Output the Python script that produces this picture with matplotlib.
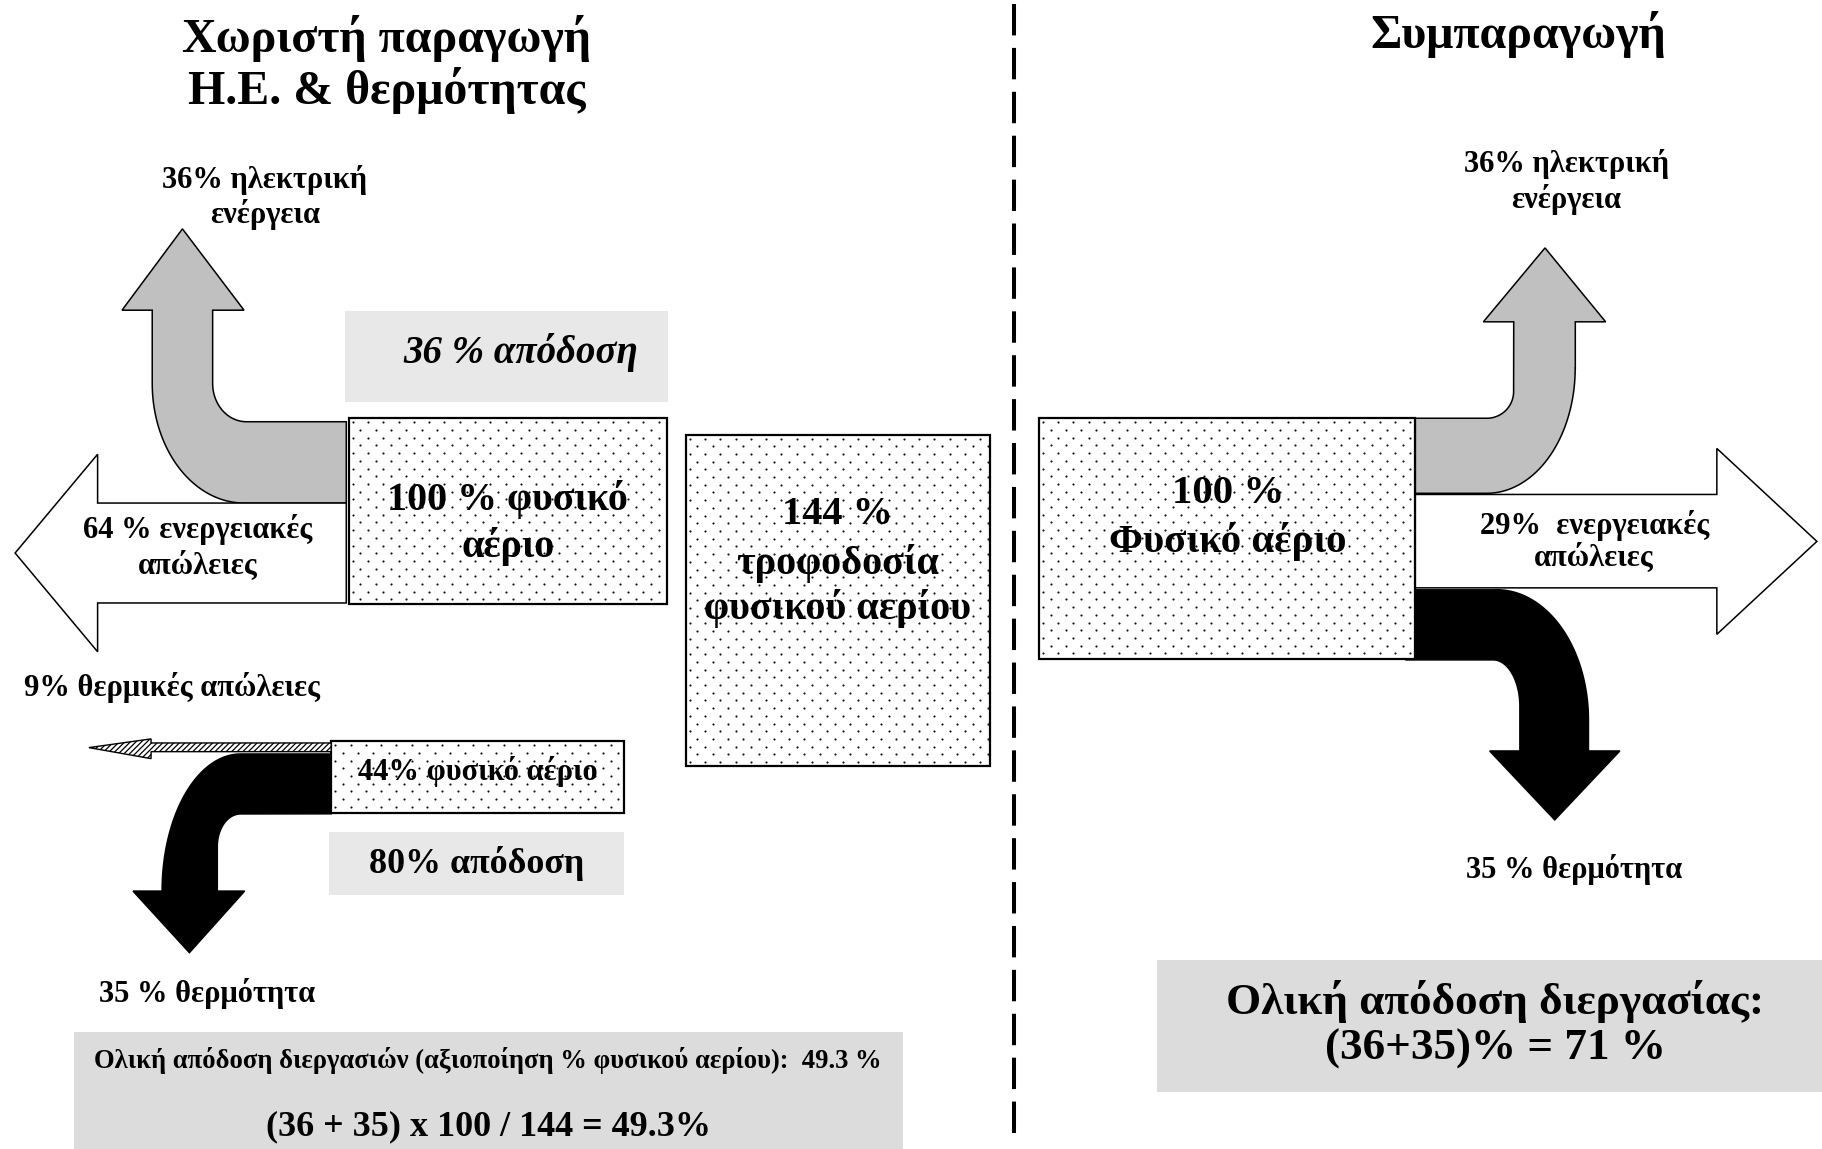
import numpy as np
import matplotlib.pyplot as plt
from matplotlib.patches import Polygon, Rectangle

plt.rcParams['font.family'] = ['Liberation Serif', 'DejaVu Serif']

# texts of the diagram
title_left = ["Χωριστή παραγωγή", "Η.Ε. & θερμότητας"]
title_right = "Συμπαραγωγή"
elec_label = ["36% ηλεκτρική", "ενέργεια"]
eff_el = "36 % απόδοση"
gas_box_left = ["100 % φυσικό", "αέριο"]
loss_left = ["64 % ενεργειακές", "απώλειες"]
heat_loss = "9% θερμικές απώλειες"
gas_boiler = "44% φυσικό αέριο"
eff_boiler = "80% απόδοση"
heat_label = "35 % θερμότητα"
total_left = ["Ολική απόδοση διεργασιών (αξιοποίηση % φυσικού αερίου):  49.3 %",
              "(36 + 35) x 100 / 144 = 49.3%"]
feed_box = ["144 %", "τροφοδοσία", "φυσικού αερίου"]
gas_box_right = ["100 %", "Φυσικό αέριο"]
loss_right = ["29%  ενεργειακές", "απώλειες"]
total_right = ["Ολική απόδοση διεργασίας:", "(36+35)% = 71 %"]


def arc(cx, cy, rx, ry, a0, a1, n=40):
    t = np.radians(np.linspace(a0, a1, n))
    return list(zip(cx + rx * np.cos(t), cy + ry * np.sin(t)))


def shape(pts, fc, lw=1.1, hatch=None, z=2):
    ax.add_patch(Polygon(pts, closed=True, facecolor=fc, edgecolor='black',
                         lw=lw, hatch=hatch, joinstyle='miter', zorder=z))


def box(x0, y0, x1, y1, fc, dotted=False, z=3):
    if dotted:
        ax.add_patch(Rectangle((x0, y0), x1 - x0, y1 - y0, facecolor='white',
                               edgecolor='black', lw=1.6, zorder=z))
        # staggered dot pattern (like the word-processor "dotted" fill)
        px, py = [], []
        for i, y in enumerate(np.arange(y0 + 3.5, y1 - 1, 6.63)):
            xs = np.arange(x0 + 3.5 + (i % 2) * 6.58, x1 - 1, 13.17)
            px += list(xs)
            py += [y] * len(xs)
        ax.scatter(px, py, s=2.4, c='#111111', linewidths=0, zorder=z + 0.5)
    else:
        ax.add_patch(Rectangle((x0, y0), x1 - x0, y1 - y0, facecolor=fc,
                               edgecolor='none', zorder=z))


def txt(x, y, s, size, style='normal'):
    ax.text(x, y, s, ha='center', va='center', fontsize=size,
            fontweight='bold', fontstyle=style, zorder=6)


fig = plt.figure(figsize=(18.22, 11.49), dpi=100)
ax = fig.add_axes([0, 0, 1, 1])
ax.set_xlim(0, 1568)
ax.set_ylim(989, 0)
ax.axis('off')

# titles + divider
txt(333, 33, title_left[0], 34.5)
txt(333, 78, title_left[1], 34.5)
txt(1307, 30, title_right, 34.5)
ax.plot([873, 873], [3.2, 977.6], color='black', lw=2.9,
        linestyle=(0, (7.8, 3.1)), zorder=1)

# ---- left: separate production ----
# grey electricity arrow
pts = [(298, 363), (212, 363)] + arc(212, 330, 29, 33, 90, 180) + \
      [(183, 267), (210, 267), (157, 197), (105, 267), (131, 267), (131, 330)] + \
      arc(210, 330, 79, 103, 180, 90) + [(298, 433)]
shape(pts, '#c0c0c0')
# white loss arrow
shape([(298, 433), (84, 433), (84, 391), (13, 476), (84, 561), (84, 519), (298, 519)], 'white')
# black heat arrow
pts = [(285, 649), (207, 649)] + arc(207, 767, 67.5, 118, 270, 180) + \
      [(114.5, 767), (163, 820), (210.5, 767), (187, 767)] + \
      arc(207, 728.6, 20, 28, 180, 270) + [(285, 700.5)]
shape(pts, 'black')
# hatched thermal loss arrow
plt.rcParams['hatch.linewidth'] = 0.9
shape([(285, 639.5), (130, 639.5), (130, 636), (76.5, 643.5), (130, 653),
       (130, 647), (285, 647)], 'white', lw=1.0, hatch='//////', z=4)

box(297, 268, 575, 346, '#e8e8e8')
box(300, 360, 574, 520, None, dotted=True)
box(285, 638, 537, 700, None, dotted=True)
box(283, 716, 537, 770, '#e8e8e8')
box(590, 374, 852, 659, None, dotted=True)
box(64, 888, 777, 989, '#dcdcdc')

txt(228, 155, elec_label[0], 22)
txt(228, 185, elec_label[1], 22)
txt(448, 303, eff_el, 28, style='italic')
txt(437, 430, gas_box_left[0], 28.8)
txt(437, 470, gas_box_left[1], 28.8)
txt(170, 456, loss_left[0], 22)
txt(170, 487, loss_left[1], 22)
txt(148, 592, heat_loss, 22)
txt(411, 664, gas_boiler, 22)
txt(410, 743, eff_boiler, 25.8)
txt(178, 855, heat_label, 22)
txt(420, 913, total_left[0], 19.2)
txt(420, 970, total_left[1], 26)
txt(721, 443, feed_box[0], 29)
txt(721, 485, feed_box[1], 29)
txt(721, 524, feed_box[2], 29)

# ---- right: cogeneration ----
pts = [(1218, 360), (1279.6, 360)] + arc(1279.6, 337, 23, 23, 90, 0) + \
      [(1302.7, 277), (1276.6, 277), (1329.6, 213.4), (1381.8, 277), (1355.7, 277), (1355.7, 317)] + \
      arc(1279.6, 317, 76, 107.6, 0, 90) + [(1218, 424.6)]
shape(pts, '#c0c0c0')
shape([(1218, 425.6), (1477.5, 425.6), (1477.5, 386), (1563.6, 466), (1477.5, 546),
       (1477.5, 506), (1218, 506)], 'white')
pts = [(1210, 507.7), (1288, 507.7)] + arc(1288, 619.6, 79, 112, 270, 360) + \
      [(1367, 646.4), (1394, 646.4), (1338, 705.7), (1282, 646.4), (1308, 646.4)] + \
      arc(1285, 608, 23, 40, 0, -90) + [(1210, 568)]
shape(pts, 'black')

box(894, 360, 1218, 567, None, dotted=True)
box(996, 826, 1568, 940, '#dcdcdc')

txt(1348, 141, elec_label[0], 22)
txt(1348, 172, elec_label[1], 22)
txt(1057, 425, gas_box_right[0], 29.4)
txt(1057, 466, gas_box_right[1], 29.4)
txt(1372, 452, loss_right[0], 22)
txt(1372, 480, loss_right[1], 22)
txt(1355, 748, heat_label, 22)
txt(1287, 862, total_right[0], 32.5)
txt(1287, 903, total_right[1], 32.5)

fig.savefig('out.png', dpi=100)
